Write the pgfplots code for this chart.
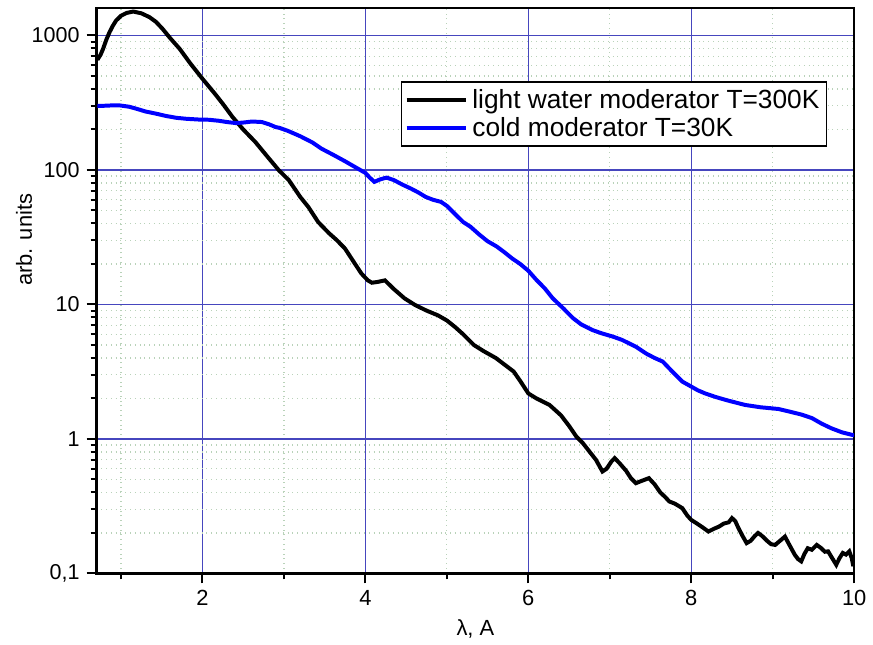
\documentclass[border=0pt]{standalone}
\usepackage{fontspec}
\setmainfont{Liberation Sans}
\usepackage{pgfplots}
\pgfplotsset{compat=1.18}

\definecolor{gridmajor}{RGB}{70,70,190}
\definecolor{gridminor}{RGB}{185,210,185}

\begin{document}
\begin{tikzpicture}
  \begin{axis}[
    scale only axis,
    width=380.5pt, height=284pt,
    ymode=log,
    xmin=0.7, xmax=10,
    ymin=0.1, ymax=1600,
    xtick={2,4,6,8,10},
    xticklabels={2,4,6,8,10},
    minor xtick={1,3,5,7,9},
    ytick={0.1,1,10,100,1000},
    yticklabels={{0,1},1,10,100,1000},
    minor ytick={0.2,0.3,0.4,0.5,0.6,0.7,0.8,0.9,
                 2,3,4,5,6,7,8,9,
                 20,30,40,50,60,70,80,90,
                 200,300,400,500,600,700,800,900},
    tick pos=left,
    tick align=outside,
    major tick length=5pt,
    minor tick length=3pt,
    every tick/.style={black, line width=1pt},
    axis line style={line width=1.2pt},
    grid=both,
    major grid style={gridmajor, line width=0.75pt},
    minor grid style={gridminor, dotted, line width=0.6pt},
    xticklabel style={font=\fontsize{11}{13}\selectfont},
    yticklabel style={font=\fontsize{10.8}{13}\selectfont},
    xlabel={λ, A},
    ylabel={arb. units},
    label style={font=\fontsize{11}{13}\selectfont},
    every axis y label/.append style={at={(ticklabel cs:0.59)}},
    ylabel shift=-7pt,
    legend style={at={(0.964,0.87)}, anchor=north east,
      font=\fontsize{13.2}{15}\selectfont, draw=black, line width=0.6pt,
      inner sep=1.5pt, row sep=-1pt},
    legend cell align=left,
    legend image code/.code={\draw[#1, line width=2pt] (0pt,0pt) -- (30pt,0pt);},
  ]
    \addplot[black, line width=2pt] coordinates {
      (0.71,659) (0.75,720) (0.78,795) (0.82,930) (0.86,1059) (0.90,1180)
      (0.94,1290) (1.00,1400) (1.07,1470) (1.15,1505) (1.25,1460) (1.35,1367)
      (1.43,1260) (1.51,1119) (1.60,960) (1.72,795) (1.85,620) (2.00,476)
      (2.15,370) (2.25,310) (2.37,247) (2.50,200) (2.65,161) (2.80,125)
      (2.94,99) (3.06,84) (3.20,63) (3.30,53) (3.42,41) (3.55,34) (3.65,30)
      (3.75,26) (3.85,21) (3.95,17) (4.03,15.1) (4.08,14.5) (4.15,14.7)
      (4.24,15.1) (4.35,13.0) (4.48,11.1) (4.61,9.9) (4.75,9.0) (4.89,8.3)
      (5.00,7.6) (5.10,6.8) (5.20,6.0) (5.33,5.0) (5.45,4.5) (5.60,4.0)
      (5.70,3.6) (5.82,3.17) (5.90,2.7) (6.00,2.18) (6.10,2.0) (6.26,1.79)
      (6.40,1.5) (6.50,1.25) (6.59,1.04) (6.67,0.93) (6.75,0.806) (6.83,0.70)
      (6.91,0.573) (6.96,0.60) (7.02,0.68) (7.06,0.72) (7.12,0.66) (7.20,0.58)
      (7.26,0.51) (7.32,0.469) (7.40,0.49) (7.48,0.511) (7.55,0.46) (7.62,0.40)
      (7.68,0.37) (7.73,0.343) (7.80,0.33) (7.89,0.306) (7.95,0.27) (8.00,0.25)
      (8.07,0.235) (8.14,0.22) (8.21,0.205) (8.28,0.215) (8.34,0.223)
      (8.40,0.235) (8.46,0.24) (8.50,0.258) (8.54,0.245) (8.58,0.217)
      (8.63,0.19) (8.68,0.168) (8.73,0.175) (8.78,0.19) (8.82,0.20) (8.87,0.19)
      (8.93,0.175) (8.98,0.165) (9.03,0.163) (9.09,0.175) (9.15,0.188)
      (9.20,0.165) (9.27,0.138) (9.31,0.128) (9.35,0.123) (9.39,0.14)
      (9.43,0.154) (9.48,0.15) (9.54,0.163) (9.59,0.155) (9.64,0.145)
      (9.68,0.146) (9.73,0.13) (9.78,0.116) (9.82,0.13) (9.86,0.142)
      (9.90,0.138) (9.94,0.146) (9.97,0.13) (9.99,0.113)
    };
    \addlegendentry{light water moderator T=300K}
    \addplot[blue, line width=2pt] coordinates {
      (0.71,299) (0.80,300) (0.90,302) (0.98,302) (1.10,295) (1.19,285)
      (1.30,272) (1.43,262) (1.55,252) (1.68,244) (1.80,240) (1.95,237)
      (2.08,236) (2.20,232) (2.30,227) (2.41,223) (2.50,225) (2.61,229)
      (2.73,227) (2.82,218) (2.90,208) (2.94,206) (3.05,195) (3.20,178)
      (3.35,160) (3.46,144) (3.60,130) (3.75,116) (3.91,102) (4.00,95)
      (4.05,88) (4.11,81.5) (4.18,85) (4.26,87.7) (4.35,84) (4.45,78)
      (4.56,72.6) (4.65,68) (4.74,63) (4.83,60) (4.93,57.8) (5.00,54)
      (5.10,47) (5.20,41) (5.29,37.8) (5.40,33) (5.50,29.5) (5.61,27)
      (5.70,24.6) (5.80,22) (5.90,20) (6.00,17.8) (6.10,15.2) (6.20,13.2)
      (6.30,11.1) (6.43,9.34) (6.55,7.9) (6.65,7.1) (6.79,6.44) (6.90,6.1)
      (7.04,5.76) (7.15,5.45) (7.32,4.85) (7.45,4.3) (7.55,4.0) (7.65,3.76)
      (7.75,3.25) (7.89,2.67) (8.00,2.45) (8.08,2.3) (8.17,2.18) (8.30,2.05)
      (8.45,1.93) (8.66,1.79) (8.85,1.72) (9.07,1.67) (9.20,1.6) (9.35,1.52)
      (9.48,1.43) (9.60,1.3) (9.72,1.20) (9.85,1.12) (9.98,1.07) (10.0,1.06)
    };
    \addlegendentry{cold moderator T=30K}
  \end{axis}
  \path (current axis.south west) ++(-48.5pt,-31.5pt);
  \path (current axis.north east) ++(7.5pt,4pt);
\end{tikzpicture}
\end{document}
